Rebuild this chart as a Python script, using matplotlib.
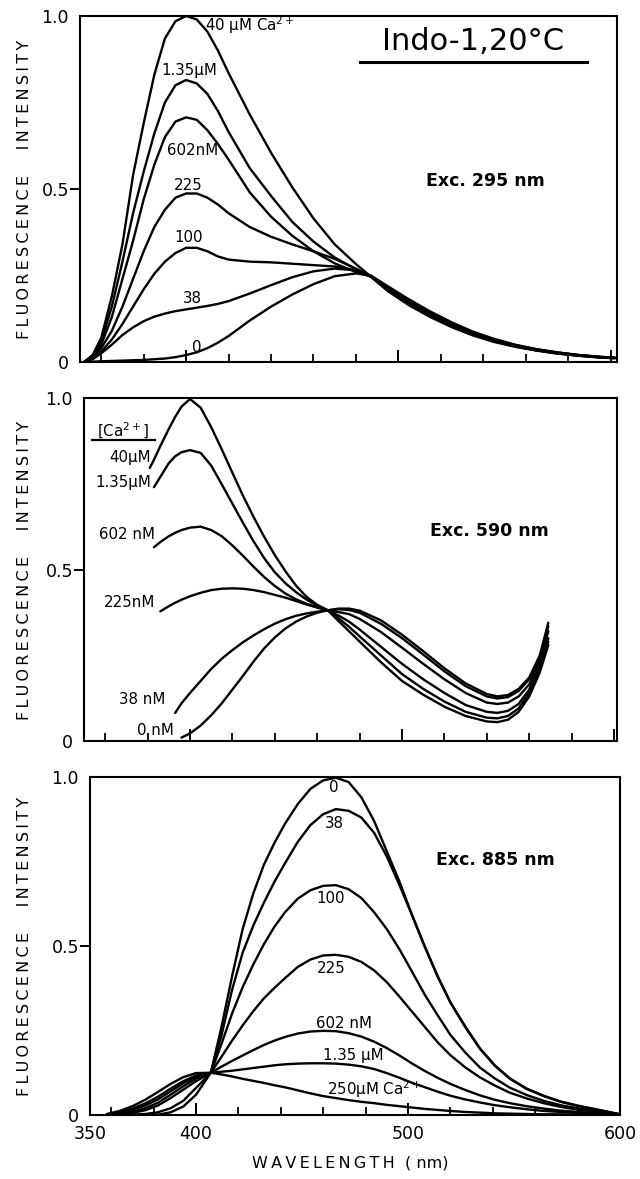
import numpy as np
import matplotlib
matplotlib.use("Agg")
import matplotlib.pyplot as plt

plt.rcParams['font.family'] = ['DejaVu Sans']
plt.rcParams['mathtext.fontset'] = 'dejavusans'

# ---- panel 1: Exc. 295 nm ----
wl_295 = [352, 356, 360, 365, 370, 375, 380, 385, 390, 395, 400, 405, 410, 415, 420,
          430, 440, 450, 460, 470, 480, 487, 495, 505, 515, 525, 535, 545, 555, 565,
          575, 585, 595, 602]
exc295_40uM = [0.0, 0.02, 0.07, 0.19, 0.34, 0.54, 0.69, 0.83, 0.935, 0.985, 1.0, 0.99, 0.955,
               0.9, 0.835, 0.715, 0.605, 0.505, 0.415, 0.34, 0.283, 0.247,
               0.205, 0.164, 0.13, 0.101, 0.077, 0.058, 0.044, 0.033, 0.024, 0.018, 0.013, 0.011]
exc295_135uM = [0.0, 0.02, 0.06, 0.16, 0.29, 0.43, 0.55, 0.66, 0.75, 0.8, 0.815, 0.805, 0.775,
                0.725, 0.665, 0.56, 0.48, 0.405, 0.348, 0.302, 0.268, 0.247,
                0.207, 0.167, 0.132, 0.103, 0.079, 0.06, 0.045, 0.034, 0.025, 0.018, 0.013, 0.011]
exc295_602nM = [0.0, 0.015, 0.05, 0.13, 0.24, 0.35, 0.47, 0.57, 0.65, 0.695, 0.707, 0.7, 0.67,
                0.63, 0.585, 0.49, 0.42, 0.365, 0.32, 0.285, 0.26, 0.247,
                0.21, 0.17, 0.135, 0.105, 0.08, 0.061, 0.046, 0.034, 0.025, 0.019, 0.014, 0.012]
exc295_225nM = [0.0, 0.012, 0.04, 0.09, 0.16, 0.24, 0.32, 0.39, 0.44, 0.475, 0.487, 0.487, 0.475,
                0.455, 0.43, 0.39, 0.362, 0.34, 0.32, 0.298, 0.27, 0.247,
                0.212, 0.172, 0.137, 0.107, 0.082, 0.062, 0.047, 0.035, 0.026, 0.019, 0.014, 0.012]
exc295_100nM = [0.0, 0.01, 0.03, 0.065, 0.11, 0.16, 0.21, 0.255, 0.29, 0.315, 0.33, 0.33, 0.32,
                0.305, 0.296, 0.29, 0.288, 0.284, 0.28, 0.276, 0.265, 0.247,
                0.214, 0.175, 0.14, 0.109, 0.084, 0.064, 0.048, 0.036, 0.027, 0.02, 0.014, 0.012]
exc295_38nM = [0.0, 0.008, 0.025, 0.05, 0.078, 0.1, 0.118, 0.131, 0.14, 0.147, 0.152, 0.157, 0.162,
               0.168, 0.176, 0.198, 0.222, 0.245, 0.262, 0.27, 0.265, 0.248,
               0.216, 0.178, 0.143, 0.112, 0.086, 0.065, 0.049, 0.037, 0.027, 0.02, 0.015, 0.012]
exc295_0nM = [0.0, 0.001, 0.002, 0.003, 0.004, 0.005, 0.006, 0.008, 0.01, 0.014, 0.02, 0.028, 0.04,
              0.056, 0.075, 0.12, 0.16, 0.195, 0.225, 0.248, 0.256, 0.25,
              0.219, 0.181, 0.146, 0.115, 0.088, 0.067, 0.05, 0.037, 0.028, 0.02, 0.015, 0.012]
labels_295 = ['40 µM Ca$^{2+}$', '1.35µM', '602nM', '225', '100', '38', '0']
label_pos_295 = [(409, 0.973), (401.5, 0.842), (403, 0.612), (401, 0.51), (401, 0.359), (403, 0.183), (405, 0.042)]

# ---- panel 2: Exc. 590 nm ----
wl_590 = [381, 383, 386, 390, 393, 396, 400, 405, 410, 415, 420, 425, 430, 435, 440, 445,
          450, 455, 460, 465, 470, 475, 480, 490, 500, 510, 520, 530, 540, 545, 550, 555,
          560, 565, 569]
nan = np.nan
exc590_40uM = [0.796, 0.82, 0.86, 0.91, 0.945, 0.975, 0.997, 0.972, 0.915, 0.85, 0.782, 0.715, 0.653,
               0.595, 0.542, 0.495, 0.453, 0.42, 0.397, 0.381,
               0.35, 0.32, 0.29, 0.23, 0.175, 0.135, 0.1, 0.073, 0.057, 0.055, 0.062, 0.085, 0.13, 0.2, 0.28]
exc590_135uM = [nan, 0.74, 0.77, 0.81, 0.83, 0.842, 0.848, 0.84, 0.803, 0.748, 0.692, 0.636, 0.582,
                0.533, 0.492, 0.46, 0.434, 0.412, 0.395, 0.381,
                0.358, 0.333, 0.305, 0.25, 0.195, 0.152, 0.115, 0.085, 0.068, 0.066, 0.073, 0.095, 0.14, 0.21, 0.29]
exc590_602nM = [nan, 0.565, 0.58, 0.597, 0.607, 0.615, 0.622, 0.625, 0.615, 0.597, 0.57, 0.54, 0.508,
                0.478, 0.452, 0.43, 0.413, 0.4, 0.39, 0.381,
                0.366, 0.348, 0.325, 0.275, 0.225, 0.18, 0.14, 0.105, 0.085, 0.082, 0.088, 0.108, 0.15, 0.22, 0.3]
exc590_225nM = [nan, nan, 0.378, 0.393, 0.403, 0.412, 0.422, 0.432, 0.44, 0.444, 0.445, 0.444, 0.44,
                0.434, 0.426, 0.418, 0.408, 0.398, 0.389, 0.381,
                0.376, 0.37, 0.356, 0.318, 0.272, 0.225, 0.18, 0.14, 0.112, 0.108, 0.112, 0.13, 0.165, 0.235, 0.32]
exc590_38nM = [nan, nan, nan, nan, 0.082, 0.11, 0.14, 0.175, 0.21, 0.24, 0.265, 0.288, 0.308,
               0.326, 0.342, 0.355, 0.365, 0.372, 0.377, 0.381,
               0.384, 0.382, 0.374, 0.342, 0.3, 0.252, 0.203, 0.16, 0.13, 0.124, 0.128, 0.146, 0.18, 0.245, 0.335]
exc590_0nM = [nan, nan, nan, nan, nan, 0.01, 0.022, 0.045, 0.075, 0.11, 0.15, 0.19, 0.232,
              0.27, 0.302, 0.328, 0.348, 0.363, 0.374, 0.381,
              0.386, 0.386, 0.38, 0.352, 0.31, 0.262, 0.212, 0.168, 0.137, 0.13, 0.134, 0.152, 0.185, 0.25, 0.345]
labels_590 = ['40µM', '1.35µM', '602 nM', '225nM', '38 nM', '0 nM']
label_pos_590 = [(381.5, 0.827), (381.5, 0.754), (383.5, 0.603), (383.5, 0.404), (388.5, 0.122), (392.5, 0.03)]

# ---- panel 3: Exc. 885 nm ----
wl_885 = [358, 364, 370, 376, 382, 388, 394, 400, 407, 412, 417, 422, 427, 432, 437, 442,
          448, 454, 460, 466, 472, 478, 484, 490, 496, 502, 508, 514, 520, 527, 534, 541,
          548, 556, 564, 572, 580, 590, 600]
exc885_0nM = [0.0, 0.0, 0.0, 0.0, 0.001, 0.008, 0.025, 0.06, 0.125, 0.26, 0.41, 0.55, 0.655,
              0.74, 0.805, 0.862, 0.92, 0.965, 0.99, 0.998, 0.985, 0.94, 0.87, 0.78, 0.69,
              0.59, 0.497, 0.41, 0.333, 0.262, 0.196, 0.146, 0.108, 0.078, 0.057, 0.04, 0.028,
              0.015, 0.002]
exc885_38nM = [0.0, 0.0, 0.001, 0.003, 0.008, 0.02, 0.042, 0.08, 0.125, 0.235, 0.37, 0.48, 0.56,
               0.628, 0.69, 0.745, 0.808, 0.858, 0.89, 0.905, 0.9, 0.88, 0.835, 0.765, 0.68,
               0.59, 0.497, 0.41, 0.333, 0.26, 0.196, 0.146, 0.108, 0.077, 0.056, 0.039, 0.027,
               0.015, 0.002]
exc885_100nM = [0.0, 0.002, 0.006, 0.014, 0.028, 0.05, 0.075, 0.1, 0.125, 0.21, 0.3, 0.378, 0.445,
                0.505, 0.557, 0.6, 0.64, 0.665, 0.678, 0.68, 0.668, 0.642, 0.6, 0.55, 0.49,
                0.423, 0.355, 0.295, 0.237, 0.185, 0.14, 0.108, 0.081, 0.059, 0.042, 0.029, 0.02,
                0.011, 0.002]
exc885_225nM = [0.001, 0.004, 0.01, 0.02, 0.036, 0.06, 0.085, 0.108, 0.125, 0.172, 0.22, 0.265, 0.307,
                0.345, 0.376, 0.405, 0.438, 0.46, 0.472, 0.474, 0.468, 0.453, 0.428, 0.393, 0.35,
                0.305, 0.26, 0.215, 0.177, 0.141, 0.111, 0.087, 0.066, 0.049, 0.035, 0.024, 0.016,
                0.009, 0.002]
exc885_602nM = [0.001, 0.006, 0.015, 0.028, 0.046, 0.07, 0.094, 0.113, 0.125, 0.143, 0.16, 0.176, 0.192,
                0.207, 0.22, 0.231, 0.241, 0.247, 0.249, 0.248, 0.242, 0.232, 0.217, 0.198, 0.176,
                0.152, 0.13, 0.11, 0.092, 0.074, 0.058, 0.045, 0.035, 0.026, 0.019, 0.013, 0.009,
                0.005, 0.002]
exc885_135uM = [0.002, 0.008, 0.019, 0.034, 0.054, 0.078, 0.1, 0.117, 0.125, 0.128, 0.131, 0.135, 0.139,
                0.143, 0.147, 0.15, 0.152, 0.153, 0.153, 0.152, 0.149, 0.144, 0.136, 0.124, 0.11,
                0.095, 0.082, 0.069, 0.057, 0.046, 0.037, 0.029, 0.023, 0.017, 0.012, 0.009, 0.006,
                0.004, 0.002]
exc885_250uM = [0.003, 0.012, 0.026, 0.045, 0.068, 0.092, 0.112, 0.124, 0.125, 0.12, 0.114, 0.107, 0.101,
                0.095, 0.088, 0.082, 0.073, 0.064, 0.056, 0.05, 0.044, 0.039, 0.035, 0.03, 0.026,
                0.022, 0.018, 0.015, 0.012, 0.009, 0.007, 0.005, 0.004, 0.003, 0.002, 0.002, 0.001,
                0.001, 0.001]
labels_885 = ['0', '38', '100', '225', '602 nM', '1.35 µM', '250µM Ca$^{2+}$']
label_pos_885 = [(465, 0.97), (465.5, 0.862), (463.5, 0.64), (464, 0.432), (470, 0.27), (474, 0.176), (484, 0.076)]

ylabel = "\u2009".join("FLUORESCENCE") + "     " + "\u2009".join("INTENSITY")
xlabel = "\u2009".join("WAVELENGTH") + "  ( nm)"

fig = plt.figure(figsize=(6.4, 11.79), dpi=100)


def setup_axes(ax, xmax, show_xlabels):
    ax.set_xlim(350, xmax)
    ax.set_ylim(0, 1.0)
    for sp in ax.spines.values():
        sp.set_linewidth(1.5)
    ax.set_xticks([350, 400, 500, 600])
    ax.set_xticks(np.arange(360, 600, 20), minor=True)
    ax.tick_params(axis='x', which='major', direction='in', length=9, width=1.4,
                   labelsize=12.5, pad=7, labelbottom=show_xlabels)
    ax.tick_params(axis='x', which='minor', direction='in', length=6, width=1.3)
    ax.set_yticks([0, 0.5, 1.0])
    ax.set_yticklabels(['0', '0.5', '1.0'])
    ax.tick_params(axis='y', which='major', direction='out', length=7, width=1.4,
                   labelsize=12.5, pad=1)
    ticks = ax.yaxis.get_major_ticks()
    ticks[0].tick1line.set_visible(False)
    ticks[2].tick1line.set_visible(False)
    if show_xlabels:
        xt = ax.xaxis.get_major_ticks()
        xt[0].tick1line.set_visible(False)
        xt[3].tick1line.set_visible(False)


lw = 1.7
lab_fs = 10.8

# top panel
ax1 = fig.add_axes([0.125, 0.69296, 0.8391, 0.29347])
setup_axes(ax1, 603, False)
for ys in [exc295_40uM, exc295_135uM, exc295_602nM, exc295_225nM, exc295_100nM, exc295_38nM, exc295_0nM]:
    ax1.plot(wl_295, ys, color='black', lw=lw, solid_capstyle='round', solid_joinstyle='round')
for i, (lab, (x, y)) in enumerate(zip(labels_295, label_pos_295)):
    ax1.text(x, y, lab, fontsize=lab_fs, ha='left' if i == 0 else 'center', va='center')
ax1.text(541, 0.524, 'Exc. 295 nm', fontsize=12.5, fontweight='bold', ha='center', va='center')
ax1.text(535, 0.927, 'Indo-1,20°C', fontsize=22, ha='center', va='center')
ax1.plot([482, 589], [0.868, 0.868], color='black', lw=2.2, clip_on=False)

# middle panel
ax2 = fig.add_axes([0.13125, 0.37150, 0.83281, 0.29092])
setup_axes(ax2, 601.4, False)
for ys in [exc590_40uM, exc590_135uM, exc590_602nM, exc590_225nM, exc590_38nM, exc590_0nM]:
    ax2.plot(wl_590, ys, color='black', lw=lw, solid_capstyle='round', solid_joinstyle='round')
for lab, (x, y) in zip(labels_590, label_pos_590):
    ax2.text(x, y, lab, fontsize=lab_fs, ha='right', va='center')
ax2.text(368.5, 0.905, '[Ca$^{2+}$]', fontsize=lab_fs, ha='center', va='center')
ax2.plot([354, 383.5], [0.877, 0.877], color='black', lw=1.6)
ax2.text(541, 0.613, 'Exc. 590 nm', fontsize=12.5, fontweight='bold', ha='center', va='center')

# bottom panel
ax3 = fig.add_axes([0.140625, 0.054283, 0.828125, 0.28668])
setup_axes(ax3, 600, True)
for ys in [exc885_0nM, exc885_38nM, exc885_100nM, exc885_225nM, exc885_602nM, exc885_135uM, exc885_250uM]:
    ax3.plot(wl_885, ys, color='black', lw=lw, solid_capstyle='round', solid_joinstyle='round')
for lab, (x, y) in zip(labels_885, label_pos_885):
    ax3.text(x, y, lab, fontsize=lab_fs, ha='center', va='center')
ax3.text(541, 0.753, 'Exc. 885 nm', fontsize=12.5, fontweight='bold', ha='center', va='center')

for yc in [189 / 1179, 570 / 1179, 946 / 1179]:
    fig.text(25 / 640, 1 - yc, ylabel, rotation=90, fontsize=11.5, ha='center', va='center')
fig.text(350 / 640, 1 - 1163 / 1179, xlabel, fontsize=11.5, ha='center', va='center')

fig.savefig('out.png', dpi=100)
